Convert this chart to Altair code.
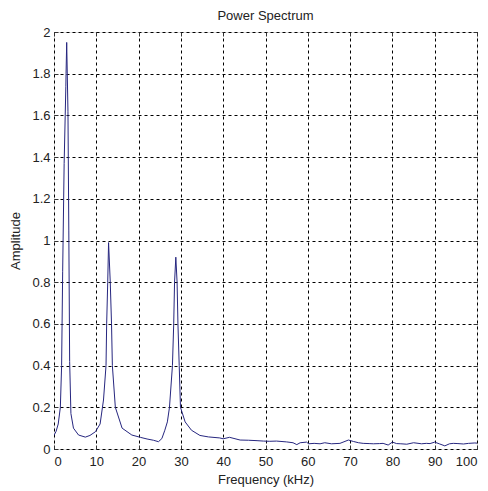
import altair as alt
import pandas as pd

freq = [0, 0.5, 1.0, 1.5, 1.8, 2.05, 2.4, 2.8, 2.85, 3.0, 3.3, 3.5, 3.7, 4.0, 4.6, 5.8, 7.4, 8.5, 9.8,
        10.9, 11.7, 12.3, 12.45, 12.7, 12.9, 13.3, 13.6, 13.8, 14.5, 16.1, 18.4, 20.4, 22.0, 23.5, 24.7,
        25.5, 26.2, 26.8, 27.3, 28.0, 28.3, 28.5, 28.8, 29.1, 29.3, 29.6, 29.9, 31.0, 32.5, 34.5, 36.5,
        39.2, 40.0, 41.5, 44.0, 46.0, 48.0, 49.5, 51.0, 52.6, 55.0, 56.5, 57.4, 58.2, 59.7, 60.2, 61.5,
        62.9, 64.0, 65.6, 67.6, 69.6, 70.8, 72.0, 73.1, 74.5, 75.5, 77.0, 77.8, 79.0, 80.0, 81.0, 82.0,
        83.4, 85.0, 86.9, 88.0, 88.9, 90.0, 91.2, 92.4, 93.5, 94.4, 95.5, 96.8, 98.0, 99.5, 100.0]
amplitude = [0.065, 0.085, 0.12, 0.2, 0.4, 0.85, 1.37, 1.74, 1.8, 1.95, 1.62, 1.05, 0.42, 0.17, 0.1,
             0.067, 0.057, 0.065, 0.083, 0.12, 0.235, 0.4, 0.6, 0.8, 0.99, 0.8, 0.6, 0.4, 0.2, 0.1,
             0.067, 0.056, 0.048, 0.042, 0.035, 0.05, 0.09, 0.13, 0.2, 0.4, 0.6, 0.8, 0.92, 0.8, 0.6,
             0.4, 0.2, 0.13, 0.09, 0.065, 0.058, 0.053, 0.049, 0.056, 0.043, 0.042, 0.04, 0.038, 0.037,
             0.038, 0.034, 0.03, 0.021, 0.03, 0.033, 0.025, 0.027, 0.025, 0.03, 0.025, 0.027, 0.043,
             0.036, 0.03, 0.027, 0.026, 0.025, 0.026, 0.027, 0.019, 0.033, 0.026, 0.025, 0.023, 0.03,
             0.025, 0.027, 0.026, 0.033, 0.024, 0.015, 0.025, 0.027, 0.026, 0.024, 0.027, 0.029, 0.028]

x_ticks = [0, 10, 20, 30, 40, 50, 60, 70, 80, 90, 100]
y_ticks = [0, 0.2, 0.4, 0.6, 0.8, 1.0, 1.2, 1.4, 1.6, 1.8, 2.0]

df = pd.DataFrame({"freq": freq, "amp": amplitude})

FONT = "Liberation Sans"
TXT = "#222222"

base = alt.Chart(df)

main = base.mark_line(color="#26267f", strokeWidth=1, clip=True).encode(
    x=alt.X("freq:Q", scale=alt.Scale(domain=[0, 100], nice=False, zero=False),
            axis=alt.Axis(values=x_ticks, title="Frequency (kHz)", orient="bottom",
                          grid=True, gridColor="#000000", gridDash=[3, 3], gridWidth=1,
                          gridOpacity=1, domain=False, ticks=True, tickSize=4,
                          tickColor="#333333", offset=-4, labelPadding=6,
                          labelFont=FONT, labelFontSize=13, labelColor=TXT,
                          titleFont=FONT, titleFontSize=13, titleFontWeight="normal",
                          titleColor=TXT, titlePadding=5)),
    y=alt.Y("amp:Q", scale=alt.Scale(domain=[0, 2], nice=False, zero=False),
            axis=alt.Axis(values=y_ticks, title="Amplitude", orient="left", format="~g",
                          grid=True, gridColor="#000000", gridDash=[3, 3], gridWidth=1,
                          gridOpacity=1, domain=False, ticks=True, tickSize=4,
                          tickColor="#333333", offset=-4, labelPadding=4,
                          labelFont=FONT, labelFontSize=13, labelColor=TXT,
                          titleFont=FONT, titleFontSize=13, titleFontWeight="normal",
                          titleColor=TXT, titlePadding=9)),
)

mirror = base.mark_line(opacity=0).encode(
    x=alt.X("freq:Q", scale=alt.Scale(domain=[0, 100], nice=False, zero=False),
            axis=alt.Axis(values=x_ticks, orient="top", title=None, labels=False, grid=False,
                          domain=False, ticks=True, tickSize=4, tickColor="#333333", offset=-4)),
    y=alt.Y("amp:Q", scale=alt.Scale(domain=[0, 2], nice=False, zero=False),
            axis=alt.Axis(values=y_ticks, orient="right", title=None, labels=False, grid=False,
                          domain=False, ticks=True, tickSize=4, tickColor="#333333", offset=-4)),
)

chart = alt.layer(main, mirror).resolve_axis(x="independent", y="independent").properties(
    width=423,
    height=417,
    autosize=alt.AutoSizeParams(type="none"),
    padding={"left": 54, "top": 32, "right": 11, "bottom": 42},
    title=alt.TitleParams("Power Spectrum", font=FONT, fontSize=13, fontWeight="normal",
                          color=TXT, anchor="middle", offset=3),
).configure_view(stroke="#555555", strokeWidth=1).configure(background="white")

chart.save("out.html", embed_options={"renderer": "svg", "actions": False})
